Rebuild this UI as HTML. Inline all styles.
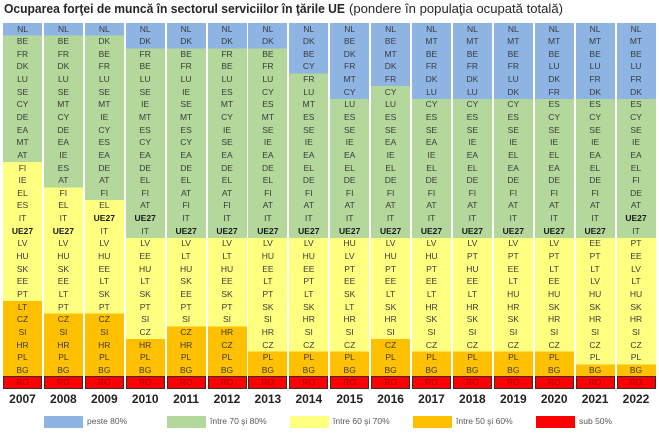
<!DOCTYPE html>
<html><head><meta charset="utf-8">
<style>
html,body{margin:0;padding:0;background:#fff;}
body{width:659px;height:434px;position:relative;overflow:hidden;font-family:"Liberation Sans",sans-serif;}
.c{position:absolute;top:22.5px;width:39px;height:366.56px;font-size:8.5px;line-height:12.64px;text-align:center;color:#3a3a3a;
background:linear-gradient(#8DB4E2 0 var(--a),#B4D79B 0 var(--g),#FFFF80 0 var(--y),#FFC000 0 353.92px,transparent 0);}
.c b{color:#1a1a1a;}
.r{position:absolute;left:0;top:353.92px;width:39px;height:12.64px;background:#FF0000;border:1px solid #3a2a2a;box-sizing:border-box;line-height:10.6px;color:#a00000;}
.yr{position:absolute;top:392px;width:39px;text-align:center;font-weight:bold;font-size:12px;line-height:14px;color:#222;}
.sw{position:absolute;top:416px;width:39px;height:11.5px;}
.lt{position:absolute;top:416px;font-size:8.5px;line-height:11px;color:#595959;white-space:nowrap;}
</style></head><body>
<svg width="659" height="22" style="position:absolute;left:0;top:0">
<text x="4" y="13" font-family="Liberation Sans, sans-serif" font-weight="bold" font-size="12.5" fill="#262626" textLength="341" lengthAdjust="spacingAndGlyphs">Ocuparea forţei de muncă în sectorul serviciilor în ţările UE</text>
<text x="349" y="13" font-family="Liberation Sans, sans-serif" font-size="12.5" fill="#262626" textLength="214" lengthAdjust="spacingAndGlyphs">(pondere în populaţia ocupată totală)</text>
</svg>

<div class="c" style="left:3px;--a:12.64px;--g:139.04px;--y:278.08px">NL<br>BE<br>FR<br>DK<br>LU<br>SE<br>CY<br>DE<br>EA<br>MT<br>AT<br>FI<br>IE<br>EL<br>ES<br>IT<br><b>UE27</b><br>LV<br>HU<br>SK<br>EE<br>PT<br>LT<br>CZ<br>SI<br>HR<br>PL<br>BG<div class="r">RO</div></div>
<div class="c" style="left:43.9px;--a:12.64px;--g:164.32px;--y:290.72px">NL<br>BE<br>FR<br>DK<br>LU<br>SE<br>MT<br>CY<br>DE<br>EA<br>IE<br>ES<br>AT<br>FI<br>EL<br>IT<br><b>UE27</b><br>LV<br>HU<br>SK<br>EE<br>LT<br>PT<br>CZ<br>SI<br>HR<br>PL<br>BG<div class="r">RO</div></div>
<div class="c" style="left:84.8px;--a:12.64px;--g:176.96px;--y:290.72px">NL<br>DK<br>BE<br>FR<br>LU<br>SE<br>MT<br>IE<br>CY<br>ES<br>EA<br>DE<br>AT<br>FI<br>EL<br><b>UE27</b><br>IT<br>LV<br>HU<br>EE<br>LT<br>SK<br>PT<br>CZ<br>SI<br>HR<br>PL<br>BG<div class="r">RO</div></div>
<div class="c" style="left:125.7px;--a:25.28px;--g:214.88px;--y:316px">NL<br>DK<br>FR<br>BE<br>LU<br>SE<br>IE<br>MT<br>ES<br>CY<br>EA<br>DE<br>EL<br>FI<br>AT<br><b>UE27</b><br>IT<br>LV<br>EE<br>HU<br>LT<br>SK<br>PT<br>SI<br>CZ<br>HR<br>PL<br>BG<div class="r">RO</div></div>
<div class="c" style="left:166.6px;--a:25.28px;--g:214.88px;--y:303.36px">NL<br>DK<br>BE<br>FR<br>LU<br>IE<br>SE<br>MT<br>ES<br>CY<br>EA<br>DE<br>EL<br>AT<br>FI<br>IT<br><b>UE27</b><br>LV<br>LT<br>HU<br>SK<br>EE<br>PT<br>SI<br>CZ<br>HR<br>PL<br>BG<div class="r">RO</div></div>
<div class="c" style="left:207.5px;--a:25.28px;--g:214.88px;--y:303.36px">NL<br>DK<br>FR<br>BE<br>LU<br>ES<br>MT<br>CY<br>IE<br>SE<br>EA<br>DE<br>EL<br>AT<br>FI<br>IT<br><b>UE27</b><br>LV<br>LT<br>HU<br>EE<br>SK<br>PT<br>SI<br>HR<br>CZ<br>PL<br>BG<div class="r">RO</div></div>
<div class="c" style="left:248.4px;--a:25.28px;--g:214.88px;--y:328.64px">NL<br>DK<br>BE<br>FR<br>LU<br>CY<br>ES<br>MT<br>SE<br>IE<br>EA<br>DE<br>EL<br>FI<br>AT<br>IT<br><b>UE27</b><br>LV<br>HU<br>EE<br>LT<br>PT<br>SK<br>SI<br>HR<br>CZ<br>PL<br>BG<div class="r">RO</div></div>
<div class="c" style="left:289.3px;--a:50.56px;--g:214.88px;--y:328.64px">NL<br>DK<br>BE<br>CY<br>FR<br>LU<br>MT<br>ES<br>SE<br>IE<br>EA<br>EL<br>DE<br>FI<br>AT<br>IT<br><b>UE27</b><br>LV<br>HU<br>EE<br>PT<br>LT<br>SK<br>HR<br>SI<br>CZ<br>PL<br>BG<div class="r">RO</div></div>
<div class="c" style="left:330.2px;--a:75.84px;--g:214.88px;--y:328.64px">NL<br>BE<br>DK<br>FR<br>MT<br>CY<br>LU<br>ES<br>SE<br>IE<br>EA<br>EL<br>DE<br>FI<br>AT<br>IT<br><b>UE27</b><br>HU<br>LV<br>PT<br>EE<br>SK<br>LT<br>HR<br>SI<br>CZ<br>PL<br>BG<div class="r">RO</div></div>
<div class="c" style="left:371.1px;--a:63.2px;--g:214.88px;--y:316px">NL<br>BE<br>MT<br>DK<br>FR<br>CY<br>LU<br>ES<br>SE<br>EA<br>IE<br>EL<br>DE<br>FI<br>AT<br>IT<br><b>UE27</b><br>LV<br>HU<br>PT<br>EE<br>LT<br>SK<br>HR<br>SI<br>CZ<br>PL<br>BG<div class="r">RO</div></div>
<div class="c" style="left:412px;--a:75.84px;--g:214.88px;--y:328.64px">NL<br>MT<br>BE<br>FR<br>DK<br>LU<br>CY<br>ES<br>SE<br>EA<br>IE<br>EL<br>DE<br>FI<br>AT<br>IT<br><b>UE27</b><br>LV<br>HU<br>PT<br>EE<br>LT<br>HR<br>SK<br>SI<br>CZ<br>PL<br>BG<div class="r">RO</div></div>
<div class="c" style="left:452.9px;--a:75.84px;--g:214.88px;--y:328.64px">NL<br>MT<br>BE<br>FR<br>DK<br>LU<br>CY<br>ES<br>SE<br>IE<br>EA<br>EL<br>DE<br>FI<br>AT<br>IT<br><b>UE27</b><br>LV<br>PT<br>HU<br>EE<br>LT<br>HR<br>SK<br>SI<br>CZ<br>PL<br>BG<div class="r">RO</div></div>
<div class="c" style="left:493.8px;--a:75.84px;--g:214.88px;--y:328.64px">NL<br>MT<br>BE<br>FR<br>LU<br>DK<br>CY<br>ES<br>SE<br>IE<br>EL<br>EA<br>DE<br>FI<br>AT<br>IT<br><b>UE27</b><br>LV<br>PT<br>EE<br>LT<br>HU<br>HR<br>SK<br>SI<br>CZ<br>PL<br>BG<div class="r">RO</div></div>
<div class="c" style="left:534.7px;--a:75.84px;--g:214.88px;--y:328.64px">NL<br>MT<br>BE<br>LU<br>DK<br>FR<br>ES<br>CY<br>SE<br>IE<br>EL<br>EA<br>DE<br>FI<br>AT<br>IT<br><b>UE27</b><br>LV<br>PT<br>LT<br>EE<br>HU<br>SK<br>HR<br>SI<br>CZ<br>PL<br>BG<div class="r">RO</div></div>
<div class="c" style="left:575.6px;--a:75.84px;--g:214.88px;--y:341.28px">NL<br>MT<br>BE<br>LU<br>FR<br>DK<br>ES<br>CY<br>SE<br>IE<br>EA<br>EL<br>DE<br>FI<br>AT<br>IT<br><b>UE27</b><br>EE<br>PT<br>LT<br>LV<br>HU<br>SK<br>HR<br>SI<br>CZ<br>PL<br>BG<div class="r">RO</div></div>
<div class="c" style="left:616.5px;--a:75.84px;--g:214.88px;--y:341.28px">NL<br>MT<br>BE<br>LU<br>FR<br>DK<br>ES<br>CY<br>SE<br>IE<br>EA<br>EL<br>FI<br>DE<br>AT<br><b>UE27</b><br>IT<br>PT<br>EE<br>LV<br>LT<br>HU<br>SK<br>HR<br>SI<br>CZ<br>PL<br>BG<div class="r">RO</div></div>

<div class="yr" style="left:3px">2007</div>
<div class="yr" style="left:43.9px">2008</div>
<div class="yr" style="left:84.8px">2009</div>
<div class="yr" style="left:125.7px">2010</div>
<div class="yr" style="left:166.6px">2011</div>
<div class="yr" style="left:207.5px">2012</div>
<div class="yr" style="left:248.4px">2013</div>
<div class="yr" style="left:289.3px">2014</div>
<div class="yr" style="left:330.2px">2015</div>
<div class="yr" style="left:371.1px">2016</div>
<div class="yr" style="left:412px">2017</div>
<div class="yr" style="left:452.9px">2018</div>
<div class="yr" style="left:493.8px">2019</div>
<div class="yr" style="left:534.7px">2020</div>
<div class="yr" style="left:575.6px">2021</div>
<div class="yr" style="left:616.5px">2022</div>

<div class="sw" style="left:44px;background:#8DB4E2"></div><div class="lt" style="left:87px">peste 80%</div>
<div class="sw" style="left:167px;background:#B4D79B"></div><div class="lt" style="left:210px">între 70 şi 80%</div>
<div class="sw" style="left:290px;background:#FFFF80"></div><div class="lt" style="left:333px">între 60 şi 70%</div>
<div class="sw" style="left:413px;background:#FFC000"></div><div class="lt" style="left:456px">între 50 şi 60%</div>
<div class="sw" style="left:536px;background:#FF0000"></div><div class="lt" style="left:579px">sub 50%</div>
</body></html>
